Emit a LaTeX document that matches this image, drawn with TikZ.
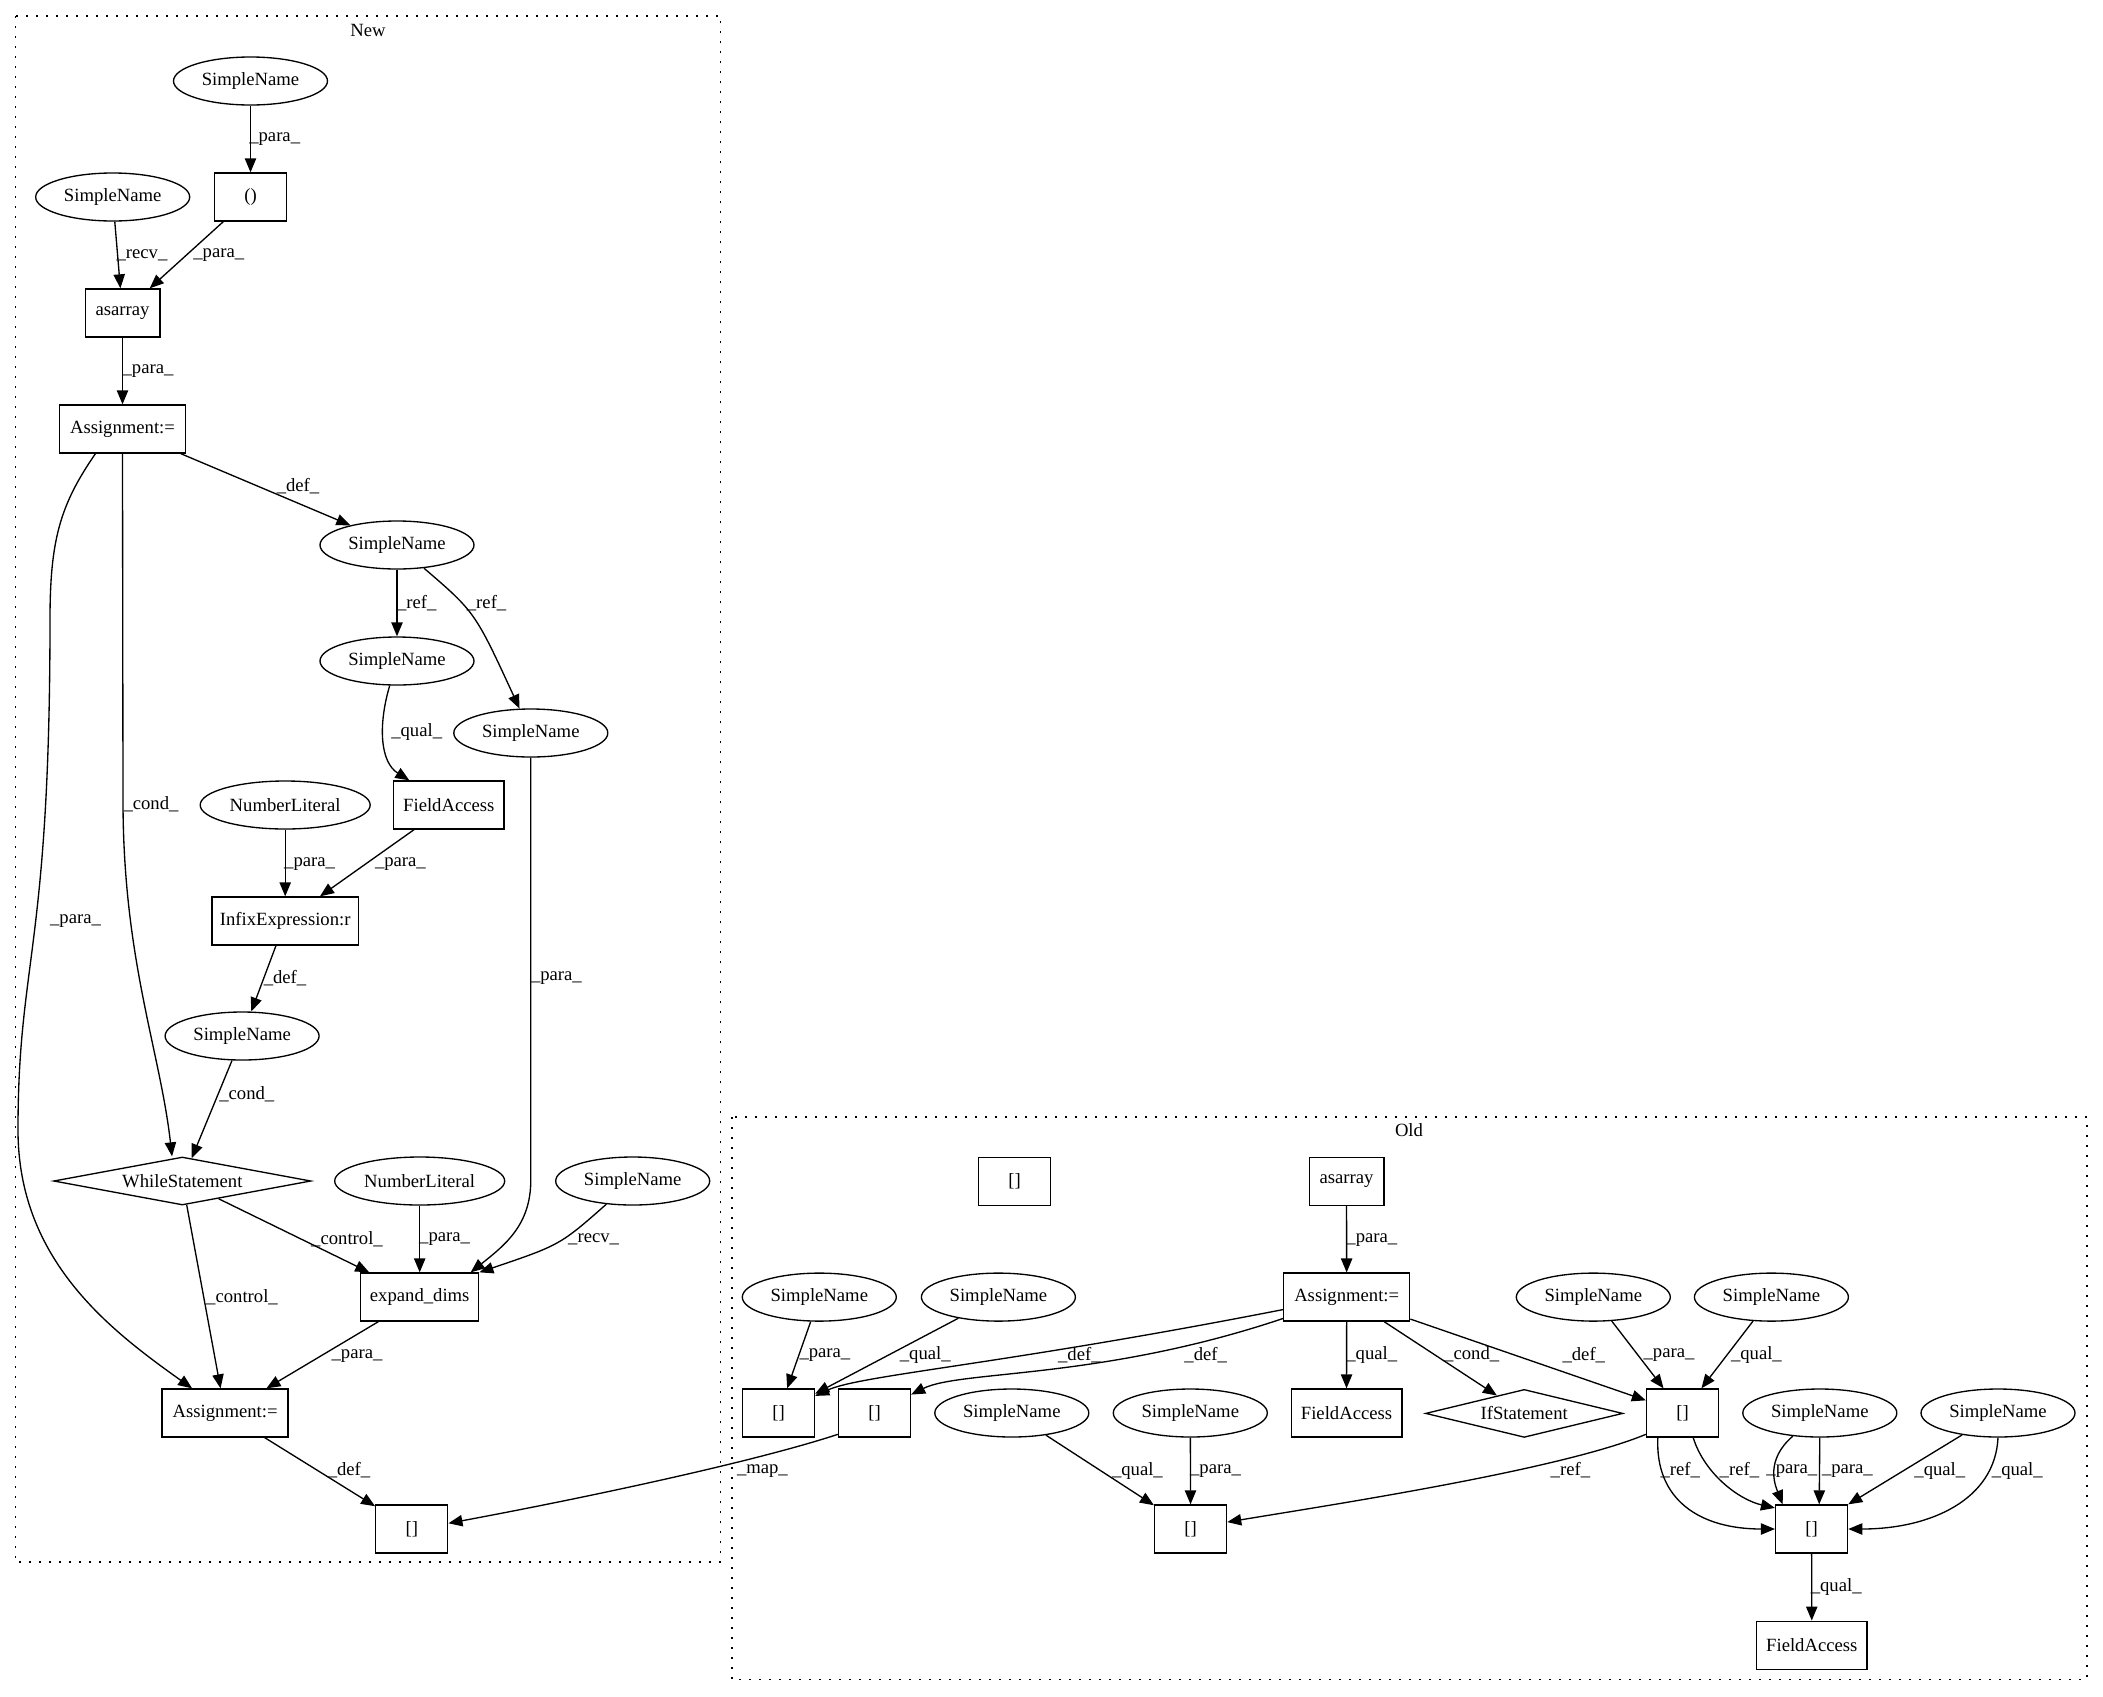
\documentclass[tikz,border=0pt]{standalone}
\usepackage{fontspec}
\setmainfont{Liberation Serif}
\usetikzlibrary{shapes.geometric,arrows.meta}
\tikzset{
  base/.style={font=\fontsize{14pt}{16.8pt}\selectfont},
  box/.style={base, draw, rectangle, line width=1pt, minimum height=36pt, inner sep=0pt},
  ell/.style={base, draw, ellipse, line width=1pt, minimum height=36pt, minimum width=115.5pt, inner sep=0pt},
  dia/.style={base, draw, diamond, line width=1pt, inner sep=0pt, aspect=5},
  edge/.style={line width=1pt, -{Triangle[length=10.5pt,width=8.5pt]}},
  lbl/.style={base, inner sep=0pt},
  clus/.style={line width=1.1pt, dash pattern=on 1.5pt off 6pt},
}
\begin{document}
\begin{tikzpicture}[x=0.75pt,y=-0.75pt]
\useasboundingbox (0,0) rectangle (2103,1696);

% clusters
\draw[clus] (15.4,16) rectangle (720.7,1562);
\node[base] (t_new) at (368,30.4) {New};
\draw[clus] (732,1117) rectangle (2086.8,1679.6);
\node[base] (t_old) at (1409,1130.4) {Old};

% New nodes
\node[ell] (n_sn1) at (250.5,81) {SimpleName};
\node[box, minimum width=54pt] (n_par) at (250.5,197) {()};
\node[ell] (n_sn2) at (112.7,197) {SimpleName};
\node[box, minimum width=56pt] (n_asa) at (122.5,313) {asarray};
\node[box, minimum width=94.5pt] (n_as1) at (122.5,429) {Assignment:=};
\node[ell] (n_def) at (397,545) {SimpleName};
\node[ell] (n_ref1) at (397,661) {SimpleName};
\node[ell] (n_ref2) at (530.8,733) {SimpleName};
\node[box, minimum width=83pt] (n_fa) at (448.8,805) {FieldAccess};
\node[ell, minimum width=127.5pt] (n_nl1) at (285.2,805) {NumberLiteral};
\node[box, minimum width=110pt] (n_inf) at (285.2,921) {InfixExpression:r};
\node[ell] (n_snc) at (242.1,1036) {SimpleName};
\node[dia, minimum width=193pt, minimum height=36pt] (n_while) at (182.3,1181) {WhileStatement};
\node[ell, minimum width=127.5pt] (n_nl2) at (419.7,1181) {NumberLiteral};
\node[ell] (n_sn3) at (632.7,1181) {SimpleName};
\node[box, minimum width=88.5pt] (n_exp) at (419.7,1297) {expand\_dims};
\node[box, minimum width=94.5pt] (n_as2) at (225.1,1413) {Assignment:=};
\node[box, minimum width=54pt] (n_br) at (411.8,1529) {[]};

% Old nodes
\node[box, minimum width=54pt] (o_lone) at (1014.6,1181.2) {[]};
\node[box, minimum width=56pt] (o_asa) at (1346.5,1181.2) {asarray};
\node[box, minimum width=94.5pt] (o_as) at (1346.7,1297.1) {Assignment:=};
\node[ell] (o_sna) at (819.3,1297.1) {SimpleName};
\node[ell] (o_snb) at (998.4,1297.1) {SimpleName};
\node[ell] (o_sne) at (1593.3,1297.1) {SimpleName};
\node[ell] (o_snf) at (1771.4,1297.1) {SimpleName};
\node[box, minimum width=54pt] (o_ba) at (778.5,1413) {[]};
\node[box, minimum width=54pt] (o_bb) at (874.5,1413) {[]};
\node[ell] (o_snc) at (1011.8,1413) {SimpleName};
\node[ell] (o_snd) at (1190.3,1413) {SimpleName};
\node[box, minimum width=83pt] (o_fa) at (1346.5,1413) {FieldAccess};
\node[dia, minimum width=148pt, minimum height=36pt] (o_if) at (1524.2,1413.4) {IfStatement};
\node[box, minimum width=54pt] (o_bc) at (1682.5,1413) {[]};
\node[ell] (o_sng) at (1819.8,1413) {SimpleName};
\node[ell] (o_snh) at (1998,1413) {SimpleName};
\node[box, minimum width=54pt] (o_bd) at (1190.6,1529) {[]};
\node[box, minimum width=54pt] (o_be) at (1811.6,1529) {[]};
\node[box, minimum width=83pt] (o_fa2) at (1811.8,1645.2) {FieldAccess};

% New edges
\draw[edge] (n_sn1) -- (n_par) node[lbl] at (274.7,139.3) {\_para\_};
\draw[edge] (n_sn2) -- (n_asa) node[lbl] at (142,255.3) {\_recv\_};
\draw[edge] (n_par) -- (n_asa) node[lbl] at (218.8,255.3) {\_para\_};
\draw[edge] (n_asa) -- (n_as1) node[lbl] at (148,371.4) {\_para\_};
\draw[edge] (n_as1) -- (n_def) node[lbl] at (298,485.7) {\_def\_};
\draw[edge] (n_as1.south) -- (123,800) .. controls (123,960) and (160,1050) .. ([xshift=-7.7pt]n_while.north) node[lbl] at (151,804.5) {\_cond\_};
\draw[edge] ([xshift=-20.3pt]n_as1.south) .. controls (60,505) and (50,540) .. (50,620) .. controls (50,950) and (18,960) .. (18,1130) .. controls (18,1260) and (110,1330) .. ([xshift=23pt]n_as2.north west) node[lbl] at (75.5,921) {\_para\_};
\draw[edge] (n_def) -- (n_ref1) node[lbl] at (416.7,603) {\_ref\_};
\draw[edge] (n_def) .. controls (475,612) .. (n_ref2) node[lbl] at (486.6,603) {\_ref\_};
\draw[edge] (n_ref1) .. controls (378,725) and (380,762) .. (n_fa) node[lbl] at (416.7,732) {\_qual\_};
\draw[edge] (n_nl1) -- (n_inf) node[lbl] at (309.6,863.7) {\_para\_};
\draw[edge] (n_fa) -- (n_inf) node[lbl] at (400.4,863.7) {\_para\_};
\draw[edge] (n_inf) -- (n_snc) node[lbl] at (285,978.3) {\_def\_};
\draw[edge] (n_ref2.south) -- (530.8,1180) .. controls (530.8,1225) and (505,1245) .. ([xshift=-6.5pt]n_exp.north east) node[lbl] at (556.4,978.3) {\_para\_};
\draw[edge] (n_snc) -- (n_while) node[lbl] at (246.8,1094) {\_cond\_};
\draw[edge] (n_while) -- (n_exp) node[lbl] at (347,1239.3) {\_control\_};
\draw[edge] (n_nl2) -- (n_exp) node[lbl] at (444.6,1239.3) {\_para\_};
\draw[edge] (n_sn3) .. controls (560,1245) .. (n_exp.north east) node[lbl] at (593.6,1239.3) {\_recv\_};
\draw[edge] (n_while) -- (n_as2) node[lbl] at (242,1297.3) {\_control\_};
\draw[edge] (n_exp) -- (n_as2) node[lbl] at (357,1355.7) {\_para\_};
\draw[edge] (n_as2) -- (n_br) node[lbl] at (349,1470) {\_def\_};

% Old edges
\draw[edge] (o_asa) -- (o_as) node[lbl] at (1371.8,1240) {\_para\_};
\draw[edge] (o_sna) -- (o_ba) node[lbl] at (824.9,1354.7) {\_para\_};
\draw[edge] (o_snb) -- (o_ba) node[lbl] at (925.3,1354.7) {\_qual\_};
\draw[edge] (o_as) .. controls (1000,1365) and (860,1375) .. (o_ba) node[lbl] at (1079.4,1354.7) {\_def\_};
\draw[edge] (o_as) .. controls (1100,1380) and (960,1370) .. (o_bb) node[lbl] at (1205.7,1354.7) {\_def\_};
\draw[edge] (o_as) -- (o_fa) node[lbl] at (1371.8,1354.7) {\_qual\_};
\draw[edge] (o_as) -- (o_if) node[lbl] at (1471.7,1354.7) {\_cond\_};
\draw[edge] (o_as) -- (o_bc) node[lbl] at (1583.8,1354.7) {\_def\_};
\draw[edge] (o_sne) -- (o_bc) node[lbl] at (1669,1354.7) {\_para\_};
\draw[edge] (o_snf) -- (o_bc) node[lbl] at (1756.4,1354.7) {\_qual\_};
\draw[edge] ([yshift=-16pt]o_bb.west) .. controls (760,1460) and (600,1495) .. ([yshift=4.3pt]n_br.east) node[lbl] at (762.4,1470.6) {\_map\_};
\draw[edge] (o_snc) -- (o_bd) node[lbl] at (1137.4,1470.6) {\_qual\_};
\draw[edge] (o_snd) -- (o_bd) node[lbl] at (1215.5,1470.6) {\_para\_};
\draw[edge] ([yshift=-16pt]o_bc.west) .. controls (1560,1470) and (1330,1505) .. ([yshift=5.2pt]o_bd.east) node[lbl] at (1570.4,1470.6) {\_ref\_};
\draw[edge] ([xshift=-18.5pt]o_bc.south) .. controls (1655,1500) and (1700,1529) .. (o_be.west) node[lbl] at (1680.2,1470.6) {\_ref\_};
\draw[edge] ([xshift=8pt]o_bc.south) .. controls (1705,1475) and (1740,1500) .. ([yshift=-2.7pt]o_be.north west) node[lbl] at (1739.4,1470.6) {\_ref\_};
\draw[edge] (o_sng) .. controls (1765,1460) and (1775,1485) .. ([xshift=5.8pt]o_be.north west) node[lbl] at (1791.8,1470.6) {\_para\_};
\draw[edge] (o_sng.south) -- ([xshift=5.7pt]o_be.north) node[lbl] at (1847.4,1470.6) {\_para\_};
\draw[edge] (o_snh) -- (o_be.north east) node[lbl] at (1939.8,1470.6) {\_qual\_};
\draw[edge] (o_snh.south) .. controls (1995,1500) and (1930,1529) .. (o_be.east) node[lbl] at (2017.3,1470.6) {\_qual\_};
\draw[edge] (o_be) -- (o_fa2) node[lbl] at (1836.2,1586.5) {\_qual\_};
\end{tikzpicture}
\end{document}
